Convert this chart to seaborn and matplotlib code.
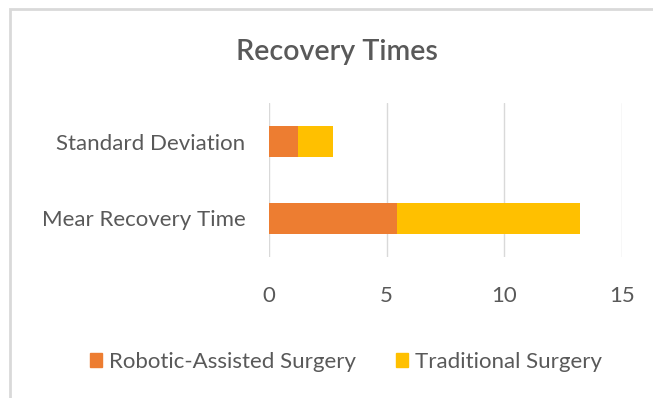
import matplotlib
matplotlib.use("Agg")
import matplotlib.pyplot as plt
import matplotlib.patches as mpatches
import seaborn as sns
import pandas as pd
import numpy as np

categories = ["Standard Deviation", "Mear Recovery Time"]
robotic = [1.23, 5.43]
traditional = [1.47, 7.78]
series_names = ["Robotic-Assisted Surgery", "Traditional Surgery"]
x_ticks = [0, 5, 10, 15]
title = "Recovery Times"

ORANGE = "#ED7D31"
YELLOW = "#FFC000"
TEXT = "#595959"
GRID = "#D9D9D9"

sns.set_theme(style="white")
plt.rcParams["font.family"] = ["Lato", "DejaVu Sans"]

df = pd.DataFrame({
    "category": categories,
    "robotic": robotic,
    "traditional": traditional,
})
df["total"] = df["robotic"] + df["traditional"]

fig = plt.figure(figsize=(6.53, 3.98), dpi=100)
ax = fig.add_axes([269 / 653, 141 / 398, 353 / 653, 154 / 398])

sns.barplot(data=df, x="total", y="category", color=YELLOW, saturation=1,
            width=0.39, ax=ax, orient="h", linewidth=0)
sns.barplot(data=df, x="robotic", y="category", color=ORANGE, saturation=1,
            width=0.39, ax=ax, orient="h", linewidth=0)

ax.set_xlim(0, 15)
ax.set_ylim(1.5, -0.5)
ax.set_xticks(x_ticks)
ax.set_xticklabels([str(t) for t in x_ticks])
ax.set_xlabel("")
ax.set_ylabel("")
for s in ax.spines.values():
    s.set_visible(False)
ax.grid(axis="x", color=GRID, linewidth=1)
ax.set_axisbelow(True)
ax.tick_params(axis="x", length=0, pad=21, labelsize=16, labelcolor=TEXT)
ax.tick_params(axis="y", length=0, pad=17, labelsize=16, labelcolor=TEXT)

fig.text(337 / 653, 1 - 52 / 398, title, ha="center", va="center",
         fontsize=20.6, fontweight="semibold", color=TEXT)

handles = [mpatches.Patch(color=ORANGE, label=series_names[0]),
           mpatches.Patch(color=YELLOW, label=series_names[1])]
fig.legend(handles=handles, loc="center", bbox_to_anchor=(346 / 653, 1 - 362 / 398),
           ncol=2, frameon=False, fontsize=16, labelcolor=TEXT,
           handlelength=0.55, handleheight=0.55, handletextpad=0.32,
           columnspacing=1.77, borderpad=0, borderaxespad=0)

border = mpatches.Rectangle((10 / 653, -0.1), 1.2, 1 - 9 / 398 + 0.1,
                            transform=fig.transFigure, fill=False,
                            edgecolor=GRID, linewidth=2)
fig.patches.append(border)

fig.savefig("out.png", dpi=100)
